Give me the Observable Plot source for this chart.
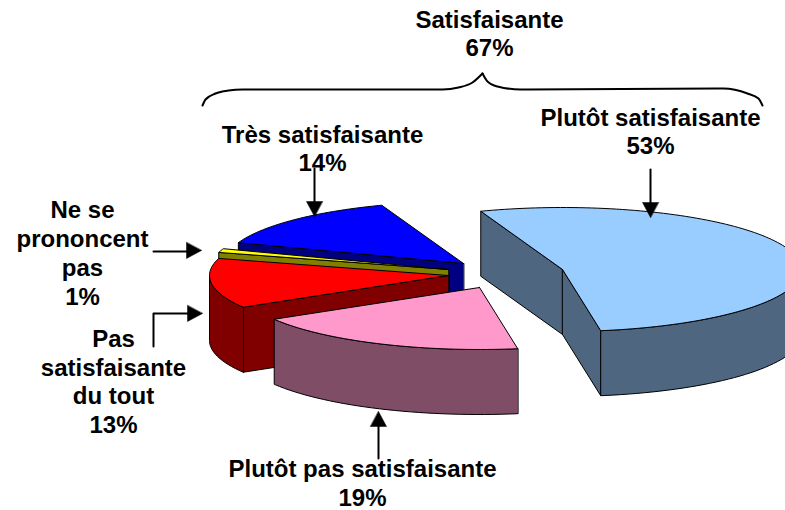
<!DOCTYPE html>
<html><head><meta charset="utf-8">
<style>html,body{margin:0;padding:0;background:#fff}svg{display:block}</style>
<script src="https://cdn.jsdelivr.net/npm/d3@7"></script>
<script src="https://cdn.jsdelivr.net/npm/@observablehq/plot@0.6"></script>
</head><body><script>
const W = 785, H = 510;
// data, in drawing order around the pie (clockwise from the first angle)
const categories = ["Plutôt satisfaisante","Plutôt pas satisfaisante","Pas satisfaisante du tout","Ne se prononcent pas","Très satisfaisante"];
const shares = [53,19,13,1,14];
const topColors = ["#99CCFF","#FF99CC","#FF0000","#FFFF00","#0000FF"];
const sideColors = ["#4F6680","#804D66","#800000","#808000","#000080"];
const apexX = [562,479,448,448,463];
const apexY = [269,287,275,269,263];
const paintOrder = [4,3,2,1,0];
const startAngle = -20, rx = 239, ry = 62, depth = 65;

const labels = [
 ["Satisfaisante",489,20],["67%",489,48],
 ["Plutôt satisfaisante",650,118],["53%",650,146],
 ["Très satisfaisante",322,135],["14%",322,163],
 ["Ne se",82,210],["prononcent",82,239],["pas",82,268],["1%",82,297],
 ["Pas",113,339],["satisfaisante",113,368],["du tout",113,396],["13%",113,425],
 ["Plutôt pas satisfaisante",362,469],["19%",362,497.5]
].map(([t,x,y])=>({t,x,y}));

const arrowShafts = [
 [[314,168],[314,203]],
 [[650,169],[650,203]],
 [[153,251],[186,251]],
 [[153,346],[153,313],[187,313]],
 [[378,458],[378,425]]
];
const arrowTips = [[314,216,0,1],[650,217,0,1],[201,250,1,0],[202,313,1,0],[378,411,0,-1]];
const braceLeft = [[202,105],[205,99],[215,93],[228,90],[242,89],[442,89],[458,87],[472,82],[482,73]];
const braceRight = [[482,73],[487,81],[497,86],[520,89],[723,88],[747,93],[758,98],[762,105]];

// geometry
const rad = d => d*Math.PI/180;
const at = (i,a,dz=0)=>[apexX[i]+rx*Math.sin(rad(a)), apexY[i]-ry*Math.cos(rad(a))+dz];
let cum = startAngle;
const spans = shares.map(s=>{const a0=cum; cum+=s*3.6; return [a0,cum];});
const polys = [];
let id=0;
function push(pts,fill){const k=id++; pts.forEach(p=>polys.push({x:p[0],y:p[1],k,fill}));}
for(const i of paintOrder){
  const [a0,a1]=spans[i];
  const ap=[apexX[i],apexY[i]];
  const apB=[apexX[i],apexY[i]+depth];
  if(Math.sin(rad(a0))<0) push([ap,at(i,a0),at(i,a0,depth),apB],sideColors[i]);
  if(Math.sin(rad(a1))>0) push([ap,at(i,a1),at(i,a1,depth),apB],sideColors[i]);
  const f0=Math.max(a0,90), f1=Math.min(a1,270);
  if(f1>f0){
    const top=[],bot=[];
    for(const a of d3.range(f0,f1,2).concat([f1])){top.push(at(i,a));bot.unshift(at(i,a,depth));}
    push(top.concat(bot),sideColors[i]);
  }
  const arc=[];
  for(const a of d3.range(a0,a1,1.5).concat([a1])) arc.push(at(i,a));
  push([ap,...arc,ap],topColors[i]);
}
const shaftRows = arrowShafts.flatMap((s,k)=>s.map(p=>({x:p[0],y:p[1],k})));
const headRows = arrowTips.flatMap(([x,y,dx,dy],k)=>{
  const L=15,w=8;
  return [[x,y],[x-dx*L-dy*w,y-dy*L+dx*w],[x-dx*L+dy*w,y-dy*L-dx*w]].map(p=>({x:p[0],y:p[1],k}));
});
const braceRows = [braceLeft,braceRight].flatMap((b,k)=>b.map(p=>({x:p[0],y:p[1],k})));
const chart = Plot.plot({
  width:W,height:H,margin:0,
  x:{domain:[0,W],range:[0,W],axis:null},
  y:{domain:[0,H],range:[0,H],axis:null},
  marks:[
    Plot.line(polys,{x:"x",y:"y",z:"k",fill:"fill",stroke:"#000",strokeWidth:1,strokeLinejoin:"round",curve:"linear-closed",clip:true}),
    Plot.line(shaftRows,{x:"x",y:"y",z:"k",stroke:"#000",strokeWidth:2,curve:"linear"}),
    Plot.line(headRows,{x:"x",y:"y",z:"k",fill:"#000",stroke:"#000",strokeWidth:0.5,curve:"linear-closed"}),
    Plot.line(braceRows,{x:"x",y:"y",z:"k",stroke:"#000",strokeWidth:2,curve:"monotone-x"}),
    Plot.text(labels,{x:"x",y:"y",text:"t",fontFamily:"Liberation Sans",fontWeight:"bold",fontSize:24,fill:"#000"})
  ]
});
document.body.appendChild(chart);
</script></body></html>
